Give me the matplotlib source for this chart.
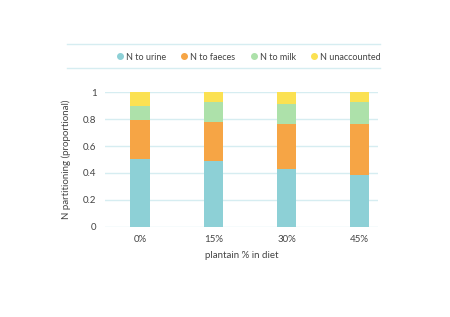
import numpy as np
import matplotlib.pyplot as plt
from matplotlib.lines import Line2D

plt.rcParams['font.family'] = ['Lato', 'DejaVu Sans']

# data
diets = ['0%', '15%', '30%', '45%']
urine = [0.50, 0.485, 0.43, 0.385]
faeces = [0.29, 0.295, 0.335, 0.377]
milk = [0.11, 0.145, 0.15, 0.166]
unaccounted = [0.10, 0.075, 0.085, 0.072]

series = [('N to urine', urine, '#8dd0d6'),
          ('N to faeces', faeces, '#f6a545'),
          ('N to milk', milk, '#ade1aa'),
          ('N unaccounted', unaccounted, '#fbe152')]

txt = '#444444'
grid_c = '#d6edf1'

fig = plt.figure(figsize=(4.5, 3.17), dpi=100)
ax = fig.add_axes([0.233, 0.285, 0.607, 0.424])

x = np.arange(len(diets))
bottom = np.zeros(len(diets))
handles = []
for name, vals, col in series:
    ax.bar(x, vals, width=0.26, bottom=bottom, color=col, zorder=3)
    bottom += np.array(vals)
    handles.append(Line2D([], [], marker='o', linestyle='', color=col,
                          markersize=4, label=name))

ax.set_xlim(-0.48, 3.25)
ax.set_ylim(0, 1)
ax.set_yticks([0, 0.2, 0.4, 0.6, 0.8, 1])
ax.set_yticklabels(['0', '0.2', '0.4', '0.6', '0.8', '1'])
ax.set_xticks(x)
ax.set_xticklabels(diets)
ax.yaxis.grid(True, color=grid_c, linewidth=1, zorder=0)
for s in ax.spines.values():
    s.set_visible(False)
ax.tick_params(length=0, labelsize=7, colors=txt, pad=6)
ax.set_xlabel('plantain % in diet', fontsize=7, color=txt, labelpad=5)
ax.set_ylabel('N partitioning (proportional)', fontsize=7, color=txt, labelpad=9)

# legend band with rules above and below
fig.legend(handles=handles, loc='center', bbox_to_anchor=(248 / 450, 1 - 57 / 317),
           ncol=4, frameon=False, fontsize=6.5, labelcolor=txt,
           handletextpad=0.2, columnspacing=1.5, handlelength=1.0)
for yy in (44, 68):
    fig.add_artist(Line2D([67 / 450, 380 / 450], [1 - yy / 317] * 2,
                          color=grid_c, linewidth=1))

fig.savefig('out.png', dpi=100)
